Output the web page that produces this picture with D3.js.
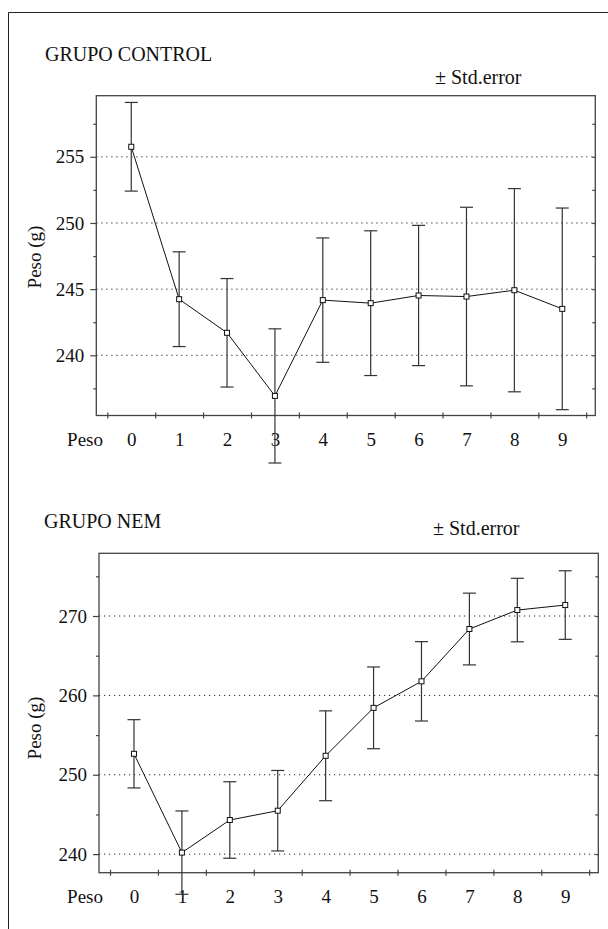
<!DOCTYPE html>
<html>
<head>
<meta charset="utf-8">
<script src="https://cdn.jsdelivr.net/npm/d3@7"></script>
<style>
  body { margin: 0; background: #fff; }
  svg text { font-family: 'Liberation Serif', 'DejaVu Serif', 'Times New Roman', Times, serif; fill: #111; }
</style>
</head>
<body>
<div id="vis-container"></div>
<script>
// Data (mean weight and standard error per week)
const semanas = [0, 1, 2, 3, 4, 5, 6, 7, 8, 9];

const controlMedia = [255.76, 244.24, 241.7, 236.93, 244.17, 243.94, 244.52, 244.44, 244.92, 243.51];
const controlError = [3.35, 3.58, 4.1, 5.07, 4.7, 5.47, 5.3, 6.75, 7.68, 7.62];
const controlTicks = [240, 245, 250, 255];
const controlMinor = [237.5, 242.5, 247.5, 252.5, 257.5];

const nemMedia = [252.64, 240.19, 244.3, 245.47, 252.39, 258.43, 261.77, 268.36, 270.75, 271.38];
const nemError = [4.3, 5.25, 4.82, 5.07, 5.66, 5.15, 5.0, 4.52, 4.0, 4.32];
const nemTicks = [240, 250, 260, 270];
const nemMinor = [245, 255, 265, 275];

const width = 608;
const height = 929;
const serif = "Liberation Serif, DejaVu Serif, Times New Roman, serif";

const svg = d3.select("#vis-container")
  .append("svg")
  .attr("width", width)
  .attr("height", height)
  .attr("font-family", serif);

// outer page border (top and left only)
svg.append("path")
  .attr("d", `M8.5,${height} V12.5 H${width}`)
  .attr("fill", "none")
  .attr("stroke", "#222")
  .attr("stroke-width", 1);

function drawPanel(opt) {
  const g = svg.append("g");
  const f = opt.frame;

  // x scale: frame edges sit a bit past the -0.5 / 9.5 boundaries
  const x = d3.scaleLinear()
    .domain([-0.73, 9.69])
    .range([f.left, f.right]);

  const y = d3.scaleLinear()
    .domain(opt.yDomain)
    .range([f.bottom, f.top]);

  // titles
  g.append("text")
    .attr("x", opt.titleX)
    .attr("y", opt.titleY)
    .attr("font-size", "20px")
    .text(opt.title);

  g.append("text")
    .attr("x", opt.errX)
    .attr("y", opt.errY)
    .attr("font-size", "20px")
    .text("± Std.error");

  // dotted grid at major ticks
  g.selectAll(".grid")
    .data(opt.ticks)
    .enter()
    .append("line")
    .attr("x1", f.left)
    .attr("x2", f.right)
    .attr("y1", (d) => y(d))
    .attr("y2", (d) => y(d))
    .attr("stroke", "#222")
    .attr("stroke-width", 1)
    .attr("stroke-dasharray", "1.2,3.8");

  // frame
  g.append("rect")
    .attr("x", f.left)
    .attr("y", f.top)
    .attr("width", f.right - f.left)
    .attr("height", f.bottom - f.top)
    .attr("fill", "none")
    .attr("stroke", "#444")
    .attr("stroke-width", 1.3);

  // left axis, major ticks with labels
  g.append("g")
    .attr("transform", `translate(${f.left},0)`)
    .call(d3.axisLeft(y).tickValues(opt.ticks).tickSize(6).tickPadding(6).tickFormat(d3.format("d")))
    .attr("font-family", serif)
    .call((a) => a.select(".domain").remove())
    .call((a) => a.selectAll("line").attr("stroke", "#444").attr("stroke-width", 1.2))
    .call((a) => a.selectAll("text")
      .attr("font-size", "19px")
      .attr("fill", "#111"));

  // left axis, minor ticks
  g.append("g")
    .attr("transform", `translate(${f.left},0)`)
    .call(d3.axisLeft(y).tickValues(opt.minor).tickSize(3).tickFormat(""))
    .call((a) => a.select(".domain").remove())
    .call((a) => a.selectAll("line").attr("stroke", "#444").attr("stroke-width", 1.2));

  // right axis ticks pointing inward
  g.append("g")
    .attr("transform", `translate(${f.right},0)`)
    .call(d3.axisLeft(y).tickValues(opt.ticks.concat(opt.minor)).tickSize(3).tickFormat(""))
    .call((a) => a.select(".domain").remove())
    .call((a) => a.selectAll("line").attr("stroke", "#444").attr("stroke-width", 1.2));

  // bottom axis: ticks between the weeks, crossing the frame
  const bounds = d3.range(11).map((k) => k - 0.5);
  g.append("g")
    .attr("transform", `translate(0,${f.bottom})`)
    .call(d3.axisBottom(x).tickValues(bounds).tickSize(3).tickFormat(""))
    .call((a) => a.select(".domain").remove())
    .call((a) => a.selectAll("line").attr("y1", -3).attr("y2", 3)
      .attr("stroke", "#444").attr("stroke-width", 1.2));

  // week labels
  g.append("g")
    .attr("transform", `translate(0,${f.bottom})`)
    .call(d3.axisBottom(x).tickValues(semanas).tickSize(0).tickPadding(0).tickFormat(d3.format("d")))
    .attr("font-family", serif)
    .call((a) => a.select(".domain").remove())
    .call((a) => a.selectAll("text")
      .attr("y", 30.5)
      .attr("dy", null)
      .attr("font-size", "19px")
      .attr("fill", "#111"));

  g.append("text")
    .attr("x", 103)
    .attr("y", f.bottom + 30.5)
    .attr("text-anchor", "end")
    .attr("font-size", "19px")
    .text("Peso");

  // y axis title
  g.append("text")
    .attr("transform", `translate(41,${opt.yLabelY}) rotate(-90)`)
    .attr("text-anchor", "middle")
    .attr("font-size", "19px")
    .text("Peso (g)");

  const rows = semanas.map((s, i) => ({ s: s, m: opt.mean[i], e: opt.err[i] }));

  // error bars
  const bars = g.selectAll(".err")
    .data(rows)
    .enter()
    .append("g")
    .attr("class", "err")
    .attr("stroke", "#333")
    .attr("stroke-width", 1.2);

  bars.append("line")
    .attr("x1", (d) => x(d.s))
    .attr("x2", (d) => x(d.s))
    .attr("y1", (d) => y(d.m + d.e))
    .attr("y2", (d) => y(d.m - d.e));

  bars.append("line")
    .attr("x1", (d) => x(d.s) - 6.5)
    .attr("x2", (d) => x(d.s) + 6.5)
    .attr("y1", (d) => y(d.m + d.e))
    .attr("y2", (d) => y(d.m + d.e));

  bars.append("line")
    .attr("x1", (d) => x(d.s) - 6.5)
    .attr("x2", (d) => x(d.s) + 6.5)
    .attr("y1", (d) => y(d.m - d.e))
    .attr("y2", (d) => y(d.m - d.e));

  // mean line
  g.append("path")
    .datum(rows)
    .attr("fill", "none")
    .attr("stroke", "#111")
    .attr("stroke-width", 1)
    .attr("d", d3.line().x((d) => x(d.s)).y((d) => y(d.m)));

  // square markers
  g.selectAll(".pt")
    .data(rows)
    .enter()
    .append("rect")
    .attr("class", "pt")
    .attr("x", (d) => x(d.s) - 2.5)
    .attr("y", (d) => y(d.m) - 2.5)
    .attr("width", 5)
    .attr("height", 5)
    .attr("fill", "#fff")
    .attr("stroke", "#111")
    .attr("stroke-width", 1);
}

drawPanel({
  title: "GRUPO CONTROL",
  titleX: 45, titleY: 61,
  errX: 435, errY: 83.5,
  frame: { left: 96.3, top: 95.7, right: 595.3, bottom: 415.5 },
  yDomain: [235.45, 259.62],
  ticks: controlTicks,
  minor: controlMinor,
  yLabelY: 257,
  mean: controlMedia,
  err: controlError
});

drawPanel({
  title: "GRUPO NEM",
  titleX: 44, titleY: 527.5,
  errX: 433, errY: 535,
  frame: { left: 99, top: 553.3, right: 598.3, bottom: 872.7 },
  yDomain: [237.66, 277.9],
  ticks: nemTicks,
  minor: nemMinor,
  yLabelY: 728,
  mean: nemMedia,
  err: nemError
});
</script>
</body>
</html>
